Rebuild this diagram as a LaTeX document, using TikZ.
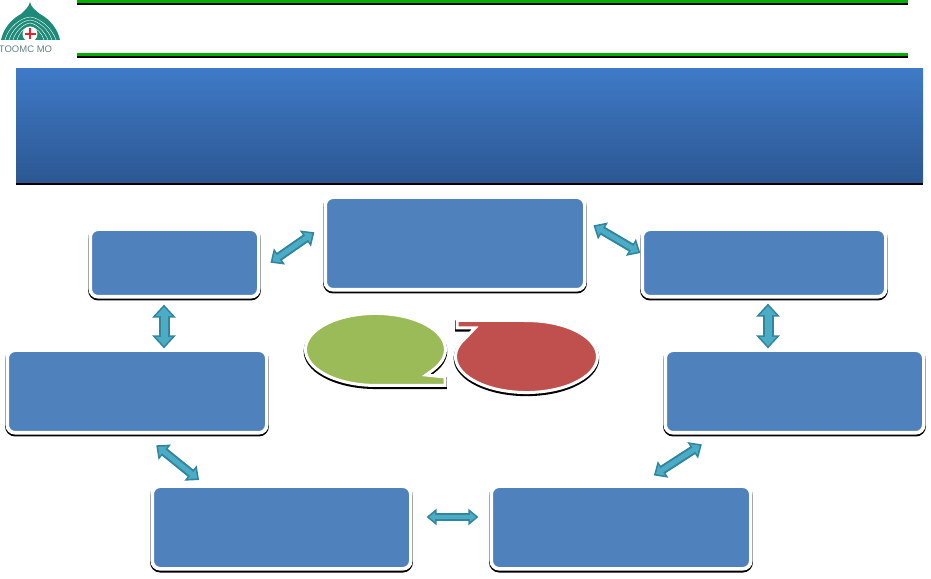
\documentclass[tikz,border=0pt]{standalone}
\usepackage{fontspec}
\setsansfont{Liberation Sans}
\usepackage{tikz}
\usetikzlibrary{positioning, arrows.meta}
\definecolor{boxBlue}{HTML}{4F81BD}
\definecolor{headTop}{HTML}{3F7AC6}
\definecolor{headBottom}{HTML}{2C5792}
\definecolor{linkDark}{HTML}{31859C}
\definecolor{linkLight}{HTML}{4BACC6}
\definecolor{ruleGreen}{HTML}{00B000}
\definecolor{bubbleGreen}{HTML}{9BBB59}
\definecolor{bubbleRed}{HTML}{C0504D}
\definecolor{logoTeal}{HTML}{1E8A78}
\definecolor{logoRed}{HTML}{E8202A}
\tikzset{BlueBox/.style={%
    shape=rectangle,%
    rounded corners=8pt,%
    draw=white,%
    fill=boxBlue,%
    line width=3.6pt,%
    inner sep=0pt,%
    preaction={draw=black, line width=4.2pt, transform canvas={yshift=-1.6pt}},%
}}
\tikzset{HeaderBar/.style={%
    shape=rectangle,%
    top color=headTop,%
    bottom color=headBottom,%
    inner sep=0pt,%
    minimum width=907pt,%
    minimum height=114pt,%
    preaction={fill=black, transform canvas={yshift=-2.5pt}},%
}}
\tikzset{LinkArrow/.style={%
    {Triangle[width=12pt,length=7pt,sep=2.45pt]}-{Triangle[width=12pt,length=7pt,sep=2.45pt]},%
    draw=linkLight,%
    line width=5pt,%
    preaction={draw=linkDark, line width=9pt,
        {Triangle[width=19pt,length=11pt]}-{Triangle[width=19pt,length=11pt]}},%
}}
\tikzset{TallArrow/.style={%
    {Triangle[width=16pt,length=9pt,sep=2.45pt]}-{Triangle[width=16pt,length=9pt,sep=2.45pt]},%
    draw=linkLight,%
    line width=7pt,%
    preaction={draw=linkDark, line width=11pt,
        {Triangle[width=23pt,length=13pt]}-{Triangle[width=23pt,length=13pt]}},%
}}
\tikzset{FlatArrow/.style={%
    {Triangle[width=9pt,length=6pt,sep=2.45pt]}-{Triangle[width=9pt,length=6pt,sep=2.45pt]},%
    draw=linkLight,%
    line width=4pt,%
    preaction={draw=linkDark, line width=8pt,
        {Triangle[width=16pt,length=10pt]}-{Triangle[width=16pt,length=10pt]}},%
}}
\tikzset{Bubble/.style={%
    draw=white,%
    line width=3pt,%
    preaction={draw=black, line width=3.6pt, transform canvas={yshift=-1.8pt}},%
}}
\begin{document}
\begin{tikzpicture}[x=1pt,y=1pt]
    \useasboundingbox (0,0) rectangle (931,578);

    % top rules
    \coordinate (ruleTopL) at (77,576.5);
    \coordinate (ruleTopR) at (908,576.5);
    \coordinate (ruleLowL) at (77,523);
    \coordinate (ruleLowR) at (908,523);
    \draw[black, line width=4pt] ([yshift=-1.5pt]ruleTopL) -- ([yshift=-1.5pt]ruleTopR);
    \draw[ruleGreen, line width=3pt] (ruleTopL) -- (ruleTopR);
    \draw[black, line width=4pt] ([yshift=-1.5pt]ruleLowL) -- ([yshift=-1.5pt]ruleLowR);
    \draw[ruleGreen, line width=3pt] (ruleLowL) -- (ruleLowR);

    % logo
    \fill[logoTeal] (30,576) .. controls (29,571) and (25,568) .. (21,564)
        .. controls (10,558) and (3,548) .. (1,538) -- (60,538)
        .. controls (58,548) and (51,558) .. (40,564)
        .. controls (35,568) and (31,571) .. (30,576) -- cycle;
    \draw[white, line width=0.4pt] (5,538) .. controls (8,550) and (20,560) .. (30,561) .. controls (40,560) and (52,550) .. (56,538);
    \draw[white, line width=0.4pt] (9,538) .. controls (12,548) and (21,557) .. (30,558) .. controls (39,557) and (49,548) .. (52,538);
    \draw[white, line width=0.4pt] (13,538) .. controls (15,546) and (23,554) .. (30,555) .. controls (37,554) and (45,546) .. (48,538);
    \draw[white, line width=0.4pt] (17,538) .. controls (19,545) and (24,551) .. (30,551) .. controls (36,551) and (42,545) .. (44,538);
    \node[shape=circle, fill=white, minimum size=15pt, inner sep=0pt] (logoDisc) at (30,544) {};
    \draw[logoRed, line width=2.8pt] ([yshift=-5.5pt]logoDisc.center) -- ([yshift=5.5pt]logoDisc.center);
    \draw[logoRed, line width=2.8pt] ([xshift=-5.5pt]logoDisc.center) -- ([xshift=5.5pt]logoDisc.center);
    \node[font=\sffamily\fontsize{9.5pt}{10pt}\selectfont, text=logoTeal!30!gray, inner sep=0pt] (logoText) at (25.5,528.5) {TOOMC MO};

    % banner
    \node[HeaderBar] (banner) at (469.5,452) {};

    % boxes
    \node[BlueBox, minimum width=259.6pt, minimum height=92.6pt] (vTop) at (455,334.5) {};
    \node[BlueBox, minimum width=168.6pt, minimum height=67.6pt] (vTopL) at (174.5,315) {};
    \node[BlueBox, minimum width=243.6pt, minimum height=67.6pt] (vTopR) at (764,315) {};
    \node[BlueBox, minimum width=259.6pt, minimum height=82.6pt] (vMidL) at (137,186.5) {};
    \node[BlueBox, minimum width=258.6pt, minimum height=82.6pt] (vMidR) at (794.5,186.5) {};
    \node[BlueBox, minimum width=258.6pt, minimum height=82.6pt] (vBotL) at (281.5,50.5) {};
    \node[BlueBox, minimum width=259.6pt, minimum height=82.6pt, right=76.8pt of vBotL] (vBotR) {};

    % arrows
    \path ([yshift=-6.6pt]vTopL.east) edge[LinkArrow, shorten <=12pt, shorten >=11pt] ([yshift=17.5pt]vTop.west);
    \path ([yshift=22.2pt]vTop.east) edge[LinkArrow, shorten <=8pt, shorten >=0pt] ([yshift=10pt]vTopR.west);
    \path ([xshift=-10.5pt]vTopL.south) edge[TallArrow, shorten <=6pt, shorten >=0pt] ([xshift=27pt]vMidL.north);
    \path ([xshift=4pt]vTopR.south) edge[TallArrow, shorten <=5pt, shorten >=0pt] ([xshift=-26.5pt]vMidR.north);
    \path ([xshift=6pt]vMidL.south) edge[LinkArrow, shorten <=17pt, shorten >=7pt] ([xshift=-77pt]vBotL.north);
    \path ([xshift=19pt]vBotR.north) edge[LinkArrow, shorten <=16.5pt, shorten >=18pt] ([xshift=-77.5pt]vMidR.south);
    \path ([yshift=10.5pt]vBotL.east) edge[FlatArrow, shorten <=14pt, shorten >=11pt] ([yshift=10.5pt]vBotR.west);

    % speech bubbles
    \path[Bubble, fill=bubbleGreen] (375.5,192.5) -- (445,192.5) -- (445,201) -- (426,203) -- (432.8,207.9)
        arc[start angle=-35, end angle=270, x radius=70pt, y radius=36pt] -- cycle;
    \path[Bubble, fill=bubbleRed] (526.5,257.5) -- (457,257.5) -- (457,250) -- (475,250) -- (465.6,240)
        arc[start angle=149, end angle=450, x radius=71pt, y radius=36pt] -- cycle;
\end{tikzpicture}
\end{document}
